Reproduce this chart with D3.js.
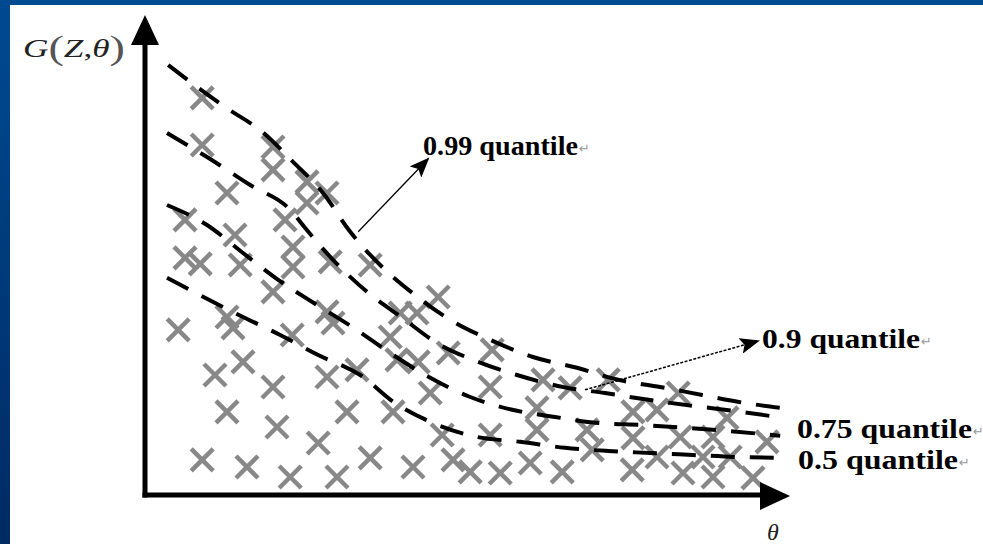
<!DOCTYPE html>
<html>
<head>
<meta charset="utf-8">
<script src="https://cdn.jsdelivr.net/npm/d3@7"></script>
<style>
html,body{margin:0;padding:0;background:#fff;overflow:hidden;}
svg{display:block;}
</style>
</head>
<body>
<div id="chart"><svg class="diagram"></svg></div>
<script>

// quantile curves, theta / G(Z,theta) in plot units
var q99 = [[5.8,107.5],[11.3,103.3],[20,97],[29.3,90.8],[37,83.3],[44.5,75.5],[51.3,65.8],[59.3,57],
    [67.5,50],[76.3,43.8],[86.3,38.8],[97,34.5],[108,31.8],[118.3,28.8],[128.8,27],[139.3,25],[150,23],[158.8,21.8]];
var q90 = [[5.5,90.5],[15.8,84.3],[26.3,77.5],[36.3,71.3],[40,66.8],[47,58.8],[55.5,50.8],[64.3,44.3],
    [73,38],[83.3,33.3],[93,30],[104.5,27],[115,25.5],[125.8,23.8],[136.8,22.3],[147.5,21],[158,19.5]];
var q75 = [[5.5,72.5],[15.5,67.5],[24.5,60.5],[33.3,53.8],[43,47.5],[51.8,42],[61.3,35.5],[71.3,29.3],
    [81.3,24.5],[91.8,21.3],[102.5,19.5],[113.3,18],[124.3,17.5],[135,16.8],[145.8,16],[158.8,14.8]];
var q50 = [[5.5,54.3],[15,49.3],[24.5,44.5],[33.8,40],[43.3,35],[53.8,30],[62.5,23],[72,18],
    [83,14.5],[93.8,13.3],[105,11.8],[115.8,11],[126.3,10.5],[137,10],[148,9.5],[158.8,9.3]];

// observed points (crosses)
var crosses = [
    [14.3,99.3],[14.3,87.5],[32,87],[32,81.3],[20.5,75.5],[40.5,78.3],[45.5,75.5],[40.5,73],
    [35,68.8],[10,68.8],[22.5,65],[37,62],[37,57],[10,59.3],[13.8,57.8],[23.8,57.5],
    [46.3,58.3],[56.3,57.5],[8.3,41.3],[20.5,44.5],[22,41.8],[32,50.8],[36.8,40],[45.5,45.8],
    [47,43],[24.5,33.3],[17.5,30],[32,27],[45.5,29.5],[53,31.3],[20.5,20.8],[33,17],
    [43.3,13],[50.5,20.8],[62,20.8],[14.3,8.8],[25.5,7],[36.3,4.5],[48,4.5],[56.3,9.3],
    [61.3,39.5],[63,33.8],[73.3,49.5],[63.8,45.5],[68,45.5],[75.8,35.5],[86.8,36.3],[68.3,33.3],
    [71.3,25.5],[86.3,27],[99.5,28.8],[106.3,26.8],[74.3,15],[86.3,15],[98,21.8],[98,16.3],
    [110.5,16.3],[111.8,11.3],[67,7],[77,8.8],[81.3,5.8],[88.8,5.5],[96.3,8],[104.3,5.8],
    [115.8,28.8],[122,20.8],[128,21.3],[133.3,25.5],[122,14.3],[133.8,14.5],[128,9.5],[121.8,6.3],
    [139.5,9.5],[134.5,5.5],[145.5,19.3],[142,14.5],[146.3,9.5],[142,4.5],[152,4.3],[155.5,13.3]
];

var quantileNames = ["0.99 quantile", "0.9 quantile", "0.75 quantile", "0.5 quantile"];


function drawChart(mydiv) {
    var div = d3.select('#' + mydiv);
    var svg = div.select("svg");
    var width = 983, height = 544;

    svg.attr("width", width).attr("height", height);

    // slide background
    var defs = svg.append("defs");
    var grad = defs.append("linearGradient").attr("id", "bluegrad")
        .attr("x1", 0).attr("y1", 0).attr("x2", 0).attr("y2", 1);
    grad.append("stop").attr("offset", "0%").attr("stop-color", "#004a92");
    grad.append("stop").attr("offset", "100%").attr("stop-color", "#002a62");

    svg.append("rect").attr("width", width).attr("height", height).attr("fill", "url(#bluegrad)");
    svg.append("rect").attr("x", 10).attr("y", 5).attr("width", width - 10).attr("height", height - 5)
        .attr("fill", "#fff");

    defs.append("marker").attr("id", "thinhead")
        .attr("markerUnits", "userSpaceOnUse")
        .attr("viewBox", "0 0 20 16").attr("refX", 18).attr("refY", 8)
        .attr("markerWidth", 20).attr("markerHeight", 16)
        .attr("orient", "auto")
      .append("path").attr("d", "M0,0L20,8L0,16L4,8Z").attr("fill", "#000");

    var x = d3.scaleLinear().domain([0, 160]).range([145, 785]);
    var y = d3.scaleLinear().domain([0, 120]).range([495, 15]);

    // crosses
    var s = 11;
    svg.append("g").selectAll("path").data(crosses).enter().append("path")
        .attr("d", function(d){
            var cx = x(d[0]), cy = y(d[1]);
            return "M" + (cx - s) + "," + (cy - s) + "L" + (cx + s) + "," + (cy + s) +
                "M" + (cx - s) + "," + (cy + s) + "L" + (cx + s) + "," + (cy - s);
        })
        .attr("stroke", "#888")
        .attr("stroke-width", 4.5)
        .attr("fill", "none");

    // dashed quantile curves
    var line = d3.line()
        .x(function(d){ return x(d[0]); })
        .y(function(d){ return y(d[1]); })
        .curve(d3.curveMonotoneX);

    svg.append("g").selectAll("path").data([q99, q90, q75, q50]).enter().append("path")
        .attr("d", line)
        .attr("fill", "none")
        .attr("stroke", "#000")
        .attr("stroke-width", 4)
        .attr("stroke-dasharray", "24,15");

    // axes
    var x0 = x.range()[0], y0 = y.range()[0];
    var xEnd = x.range()[1] + 5, yEnd = y.range()[1];

    svg.append("line").attr("x1", x0).attr("y1", y0 + 2.5).attr("x2", x0).attr("y2", yEnd + 25)
        .attr("stroke", "#000").attr("stroke-width", 5);
    svg.append("path")
        .attr("d", "M" + x0 + "," + yEnd + "L" + (x0 + 14) + "," + (yEnd + 30) + "L" + (x0 - 14) + "," + (yEnd + 30) + "Z")
        .attr("fill", "#000");

    svg.append("line").attr("x1", x0 - 2.5).attr("y1", y0).attr("x2", xEnd - 25).attr("y2", y0)
        .attr("stroke", "#000").attr("stroke-width", 5);
    svg.append("path")
        .attr("d", "M" + xEnd + "," + (y0 + 1) + "L" + (xEnd - 30) + "," + (y0 - 13) + "L" + (xEnd - 30) + "," + (y0 + 15) + "Z")
        .attr("fill", "#000");

    // axis titles
    var gl = svg.append("text").attr("x", 23).attr("y", 57)
        .attr("font-family", "'Liberation Serif','Times New Roman',serif")
        .attr("font-size", 26).attr("fill", "#222")
        .attr("textLength", 102).attr("lengthAdjust", "spacingAndGlyphs");
    gl.append("tspan").attr("font-style", "italic").text("G");
    gl.append("tspan").attr("font-size", 34).attr("fill", "#555").attr("dy", 2).text("(");
    gl.append("tspan").attr("font-style", "italic").attr("dy", -2).text("Z");
    gl.append("tspan").text(",");
    gl.append("tspan").attr("font-style", "italic").text("θ");
    gl.append("tspan").attr("font-size", 34).attr("fill", "#555").attr("dy", 2).text(")");

    svg.append("text").attr("x", 767).attr("y", 540)
        .attr("font-family", "'Liberation Serif','Times New Roman',serif")
        .attr("font-style", "italic").attr("font-size", 24).attr("fill", "#222")
        .text("θ");

    // quantile labels
    var labelPos = [
        {x: 423, y: 155, w: 155},
        {x: 762, y: 348, w: 158},
        {x: 797, y: 438, w: 175},
        {x: 798, y: 469, w: 160}
    ];
    quantileNames.forEach(function(name, i){
        var p = labelPos[i];
        svg.append("text").attr("x", p.x).attr("y", p.y)
            .attr("font-family", "'Liberation Serif','Times New Roman',serif")
            .attr("font-weight", "bold").attr("font-size", 28).attr("fill", "#000")
            .attr("textLength", p.w).attr("lengthAdjust", "spacingAndGlyphs")
            .text(name);
        svg.append("text").attr("x", p.x + p.w + 1).attr("y", p.y - 2)
            .attr("font-family", "'DejaVu Sans',sans-serif")
            .attr("font-size", 13).attr("fill", "#999")
            .text("↵");
    });

    // pointers to the 0.99 and 0.9 curves
    svg.append("line")
        .attr("x1", x(53.3)).attr("y1", y(65.8)).attr("x2", 428).attr("y2", 159)
        .attr("stroke", "#000").attr("stroke-width", 1.3)
        .attr("marker-end", "url(#thinhead)");
    svg.append("line")
        .attr("x1", x(110)).attr("y1", y(26.3)).attr("x2", 758).attr("y2", 341)
        .attr("stroke", "#000").attr("stroke-width", 1.5).attr("stroke-dasharray", "3,1.5")
        .attr("marker-end", "url(#thinhead)");
}

drawChart("chart");
</script>
</body>
</html>
